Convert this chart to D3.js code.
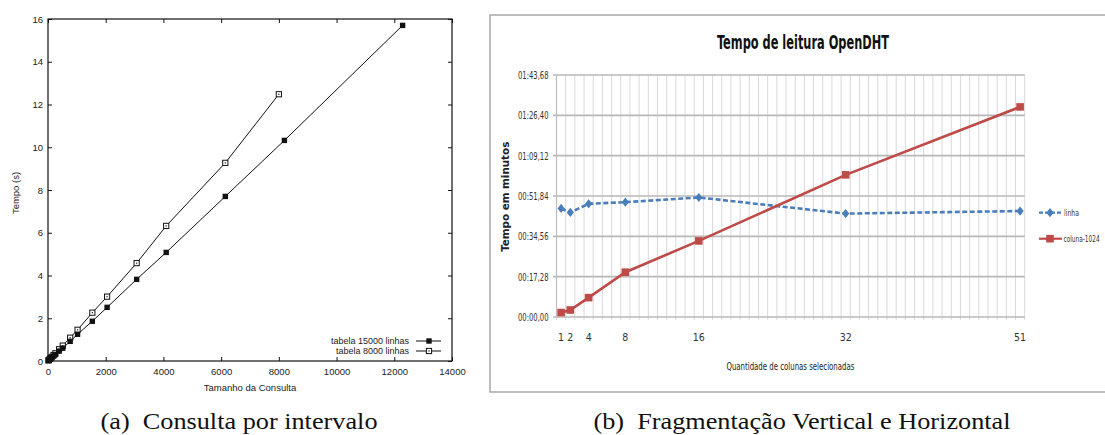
<!DOCTYPE html>
<html>
<head>
<meta charset="utf-8">
<script src="https://cdn.jsdelivr.net/npm/d3@7"></script>
<style>
  body { margin: 0; background: #fff; }
  svg { display: block; }
</style>
</head>
<body>
<script>
// (a) consulta por intervalo -- gnuplot style
var sizes15000 = [16, 32, 64, 96, 128, 192, 256, 384, 512, 768, 1024, 1536, 2048, 3072, 4096, 6144, 8192, 12288];
var tempo15000 = [0.02, 0.04, 0.08, 0.12, 0.16, 0.23, 0.3, 0.46, 0.6, 0.92, 1.25, 1.86, 2.51, 3.82, 5.08, 7.7, 10.32, 15.7];
var sizes8000 = [16, 32, 64, 96, 128, 192, 256, 384, 512, 768, 1024, 1536, 2048, 3072, 4096, 6144, 8000];
var tempo8000 = [0.03, 0.05, 0.1, 0.14, 0.19, 0.28, 0.36, 0.55, 0.72, 1.09, 1.46, 2.26, 3.01, 4.58, 6.32, 9.27, 12.48];
var xTicksA = [0, 2000, 4000, 6000, 8000, 10000, 12000, 14000];
var yTicksA = [0, 2, 4, 6, 8, 10, 12, 14, 16];

// (b) tempo de leitura OpenDHT -- excel style
var colunas = [1, 2, 4, 8, 16, 32, 51];
var linha = [46.5, 44.8, 48.5, 49.2, 51.2, 44.3, 45.4];
var coluna1024 = [1.9, 3.0, 8.3, 19.2, 32.6, 60.9, 90.0];
var yTicksB = [0, 17.28, 34.56, 51.84, 69.12, 86.40, 103.68];
var yTickLabelsB = ["00:00,00", "00:17,28", "00:34,56", "00:51,84", "01:09,12", "01:26,40", "01:43,68"];

var svg = d3.select("body").append("svg").attr("width", 1105).attr("height", 435);
svg.append("rect").attr("width", "100%").attr("height", "100%").attr("fill", "white");

// ---------- left chart ----------
var sans = "'Liberation Sans', Arial, Helvetica, sans-serif";
var xA = d3.scaleLinear().domain([0, 14000]).range([48, 452]);
var yA = d3.scaleLinear().domain([0, 16]).range([361, 19]);

var gA = svg.append("g").attr("font-family", sans);

function styleAxis(g) {
    g.select(".domain").remove();
    g.selectAll("line").attr("stroke", "#111");
    g.selectAll("text").attr("font-size", "9.5px").attr("font-family", sans).attr("fill", "#222");
}

gA.append("g").attr("transform", "translate(0,361)")
    .call(d3.axisBottom(xA).tickValues(xTicksA).tickFormat(d3.format("d")).tickSize(-4).tickSizeOuter(0).tickPadding(7))
    .call(styleAxis);
gA.append("g").attr("transform", "translate(0,19)")
    .call(d3.axisTop(xA).tickValues(xTicksA).tickSize(-4).tickSizeOuter(0).tickFormat(""))
    .call(styleAxis);
gA.append("g").attr("transform", "translate(48,0)")
    .call(d3.axisLeft(yA).tickValues(yTicksA).tickSize(-4).tickSizeOuter(0).tickPadding(5))
    .call(styleAxis);
gA.append("g").attr("transform", "translate(452,0)")
    .call(d3.axisRight(yA).tickValues(yTicksA).tickSize(-4).tickSizeOuter(0).tickFormat(""))
    .call(styleAxis);

gA.append("rect").attr("x", 48).attr("y", 19).attr("width", 404).attr("height", 342)
    .attr("fill", "none").attr("stroke", "#111").attr("stroke-width", 1.2);

var serie15000 = sizes15000.map(function (s, i) { return {x: s, y: tempo15000[i]}; });
var serie8000 = sizes8000.map(function (s, i) { return {x: s, y: tempo8000[i]}; });

var lineA = d3.line().x(function (d) { return xA(d.x); }).y(function (d) { return yA(d.y); });

gA.append("path").datum(serie8000).attr("d", lineA).attr("fill", "none").attr("stroke", "#111").attr("stroke-width", 1);
gA.append("path").datum(serie15000).attr("d", lineA).attr("fill", "none").attr("stroke", "#111").attr("stroke-width", 1);

function openBox(g, cx, cy) {
    g.append("rect").attr("x", cx - 2.6).attr("y", cy - 2.6).attr("width", 5.2).attr("height", 5.2)
        .attr("fill", "white").attr("stroke", "#111").attr("stroke-width", 1);
    g.append("rect").attr("x", cx - 0.6).attr("y", cy - 0.6).attr("width", 1.2).attr("height", 1.2).attr("fill", "#111");
}
function fullBox(g, cx, cy) {
    g.append("rect").attr("x", cx - 2.7).attr("y", cy - 2.7).attr("width", 5.4).attr("height", 5.4).attr("fill", "#111");
}

serie8000.forEach(function (d) { openBox(gA, xA(d.x), yA(d.y)); });
serie15000.forEach(function (d) { fullBox(gA, xA(d.x), yA(d.y)); });

// legend
var legA = [{label: "tabela 15000 linhas", y: 341, draw: fullBox}, {label: "tabela 8000 linhas", y: 351, draw: openBox}];
legA.forEach(function (d) {
    gA.append("text").attr("x", 409).attr("y", d.y).attr("dy", "0.35em").attr("text-anchor", "end")
        .attr("font-size", "9px").attr("fill", "#222").text(d.label);
    gA.append("line").attr("x1", 416).attr("x2", 441).attr("y1", d.y).attr("y2", d.y).attr("stroke", "#111");
    d.draw(gA, 429, d.y);
});

gA.append("text").attr("x", 250).attr("y", 391).attr("text-anchor", "middle")
    .attr("font-size", "9.5px").attr("fill", "#222").text("Tamanho da Consulta");
gA.append("text").attr("transform", "translate(18.5,193) rotate(-90)").attr("text-anchor", "middle")
    .attr("font-size", "9.5px").attr("fill", "#222").text("Tempo (s)");

// ---------- right chart ----------
var narrow = "'Liberation Sans Narrow', 'DejaVu Sans Condensed', 'Liberation Sans', sans-serif";
var gB = svg.append("g").attr("font-family", narrow);

gB.append("rect").attr("x", 490).attr("y", 15).attr("width", 640).attr("height", 377)
    .attr("fill", "white").attr("stroke", "#a8a8a8").attr("stroke-width", 1.5);

var xB = d3.scaleBand().domain(d3.range(1, 52)).range([556.5, 1024.7]).padding(0);
var yB = d3.scaleLinear().domain([0, 103.68]).range([317, 75]);
var half = xB.bandwidth() / 2;

// vertical grid lines on category boundaries
var bounds = d3.range(1, 52).map(function (c) { return xB(c); }).concat([xB(51) + xB.bandwidth()]);
gB.append("g").selectAll("line").data(bounds).enter().append("line")
    .attr("x1", function (d) { return d; }).attr("x2", function (d) { return d; })
    .attr("y1", 75).attr("y2", 320)
    .attr("stroke", "#d9d9d9").attr("stroke-width", 1);

// horizontal grid lines
gB.append("g").selectAll("line").data(yTicksB).enter().append("line")
    .attr("x1", 553).attr("x2", 1024.7)
    .attr("y1", function (d) { return yB(d); }).attr("y2", function (d) { return yB(d); })
    .attr("stroke", "#b8b8b8").attr("stroke-width", 1.6);
gB.append("line").attr("x1", 556.5).attr("x2", 556.5).attr("y1", 75).attr("y2", 317)
    .attr("stroke", "#bdbdbd").attr("stroke-width", 1.2);

var yAxisB = gB.append("g").attr("transform", "translate(556.5,0)")
    .call(d3.axisLeft(yB).tickValues(yTicksB).tickSize(0).tickPadding(8)
        .tickFormat(function (d, i) { return yTickLabelsB[i]; }));
yAxisB.select(".domain").remove();
yAxisB.selectAll("text").attr("font-family", narrow).attr("font-size", "10.5px").attr("fill", "#333")
    .attr("textLength", 30.5).attr("lengthAdjust", "spacingAndGlyphs");

var xAxisB = gB.append("g").attr("transform", "translate(0,317)")
    .call(d3.axisBottom(xB).tickValues(colunas).tickSize(0).tickPadding(17));
xAxisB.select(".domain").remove();
xAxisB.selectAll("text").attr("font-family", narrow).attr("font-size", "10.5px").attr("fill", "#333");

var lineB = d3.line()
    .x(function (d) { return xB(d.c) + half; })
    .y(function (d) { return yB(d.v); });

var serieLinha = colunas.map(function (c, i) { return {c: c, v: linha[i]}; });
var serieColuna = colunas.map(function (c, i) { return {c: c, v: coluna1024[i]}; });

var azul = "#4a7ebb", vermelho = "#be4b48";

gB.append("path").datum(serieLinha).attr("d", lineB).attr("fill", "none")
    .attr("stroke", azul).attr("stroke-width", 2.6).attr("stroke-dasharray", "5,2.5");
gB.append("path").datum(serieColuna).attr("d", lineB).attr("fill", "none")
    .attr("stroke", vermelho).attr("stroke-width", 2.6);

function diamond(g, cx, cy) {
    g.append("path").attr("d", "M" + cx + "," + (cy - 4.6) + "L" + (cx + 3.6) + "," + cy + "L" + cx + "," + (cy + 4.6) + "L" + (cx - 3.6) + "," + cy + "Z")
        .attr("fill", azul);
}
function square(g, cx, cy) {
    g.append("rect").attr("x", cx - 3.8).attr("y", cy - 3.8).attr("width", 7.6).attr("height", 7.6).attr("fill", vermelho);
}

serieLinha.forEach(function (d) { diamond(gB, xB(d.c) + half, yB(d.v)); });
serieColuna.forEach(function (d) { square(gB, xB(d.c) + half, yB(d.v)); });

// legend (labels squeezed horizontally so the second one stays inside the page)
gB.append("line").attr("x1", 1039).attr("x2", 1062).attr("y1", 212.7).attr("y2", 212.7)
    .attr("stroke", azul).attr("stroke-width", 2.2).attr("stroke-dasharray", "4,2");
diamond(gB, 1050, 212.7);
gB.append("text").attr("transform", "translate(1064,212.7) scale(0.72,1)").attr("dy", "0.35em")
    .attr("font-size", "9.5px").attr("fill", "#333").text("linha");
gB.append("line").attr("x1", 1039).attr("x2", 1062).attr("y1", 238.7).attr("y2", 238.7)
    .attr("stroke", vermelho).attr("stroke-width", 2.2);
square(gB, 1050, 238.7);
gB.append("text").attr("transform", "translate(1063.5,238.7) scale(0.68,1)").attr("dy", "0.35em")
    .attr("font-size", "9.5px").attr("fill", "#333").text("coluna-1024");

// titles
gB.append("text").attr("x", 803).attr("y", 49).attr("text-anchor", "middle")
    .attr("font-size", "19px").attr("font-weight", "bold").attr("fill", "#111")
    .attr("textLength", 172).attr("lengthAdjust", "spacingAndGlyphs")
    .text("Tempo de leitura OpenDHT");
gB.append("text").attr("x", 790.4).attr("y", 370).attr("text-anchor", "middle")
    .attr("font-size", "10.5px").attr("fill", "#222")
    .attr("textLength", 128).attr("lengthAdjust", "spacingAndGlyphs")
    .text("Quantidade de colunas  selecionadas");
gB.append("text").attr("transform", "translate(505.5,196.7) rotate(-90)").attr("dy", "0.35em")
    .attr("text-anchor", "middle").attr("font-size", "10px").attr("font-weight", "bold").attr("fill", "#222")
    .attr("textLength", 110).attr("lengthAdjust", "spacingAndGlyphs")
    .text("Tempo em minutos");

// ---------- captions ----------
var serif = "'Liberation Serif', 'Times New Roman', serif";
svg.append("text").attr("x", 239).attr("y", 429).attr("text-anchor", "middle")
    .attr("font-family", serif).attr("font-size", "24px").attr("fill", "#111")
    .attr("textLength", 277).attr("lengthAdjust", "spacingAndGlyphs")
    .text("(a)\u2002Consulta por intervalo");
svg.append("text").attr("x", 802).attr("y", 429).attr("text-anchor", "middle")
    .attr("font-family", serif).attr("font-size", "24px").attr("fill", "#111")
    .attr("textLength", 417).attr("lengthAdjust", "spacingAndGlyphs")
    .text("(b)\u2002Fragmentação Vertical e Horizontal");
</script>
</body>
</html>
